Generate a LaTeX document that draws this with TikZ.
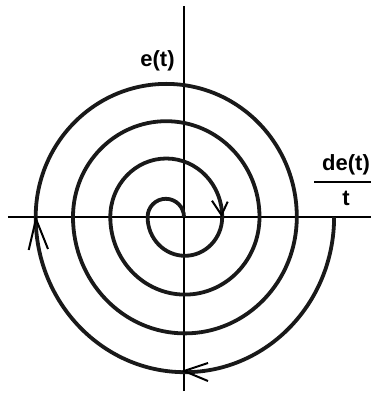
\documentclass[tikz,border=0pt]{standalone}
\usepackage{fontspec}
\setmainfont{Liberation Sans}
\usepackage{tikz}
\usetikzlibrary{positioning}

\begin{document}
\begin{tikzpicture}[x=1pt, y=1pt,
        axis/.style={draw=black, line width=2pt},
        spiral/.style={draw=black!90, line width=3.8pt},
        barb/.style={draw=black, line width=2pt},
        lbl/.style={font=\fontsize{22}{25}\selectfont\bfseries, inner sep=0pt}]
      \path[use as bounding box, fill=white] (-184,-176) rectangle (187,217);
      % axes
      \coordinate (ytop) at (0,211);
      \coordinate (ybot) at (0,-174);
      \coordinate (xleft) at (-176,0);
      \coordinate (xright) at (190,0);
      \draw[axis] (ybot) -- (ytop);
      \draw[axis] (xleft) -- (xright);
      % spiral, from the centre outwards
      \draw[spiral] (0,0) arc[start angle=0, end angle=180, radius=18.2]
        \foreach \k in {1,2,3} {
          arc[start angle=180, end angle=360, x radius=37.3*\k, y radius=38.8*\k]
          arc[start angle=0, end angle=180, x radius=37.3*\k+18.65, y radius=37.3*\k+21.2]
        }
        arc[start angle=180, end angle=360, x radius=149.2, y radius=155.2];
      % direction marks
      \coordinate (tipin) at (37.5,2);
      \coordinate (tipleft) at (-148,-2);
      \coordinate (tipbot) at (0,-154);
      \draw[barb] (tipin) ++(-9.5,14.3) -- (tipin) -- ++(6.2,13.3);
      \draw[barb] (tipleft) ++(-7.3,-31) -- (tipleft) -- ++(12,-30);
      \draw[barb] (tipbot) ++(24,8) -- (tipbot) -- ++(24,-10);
      % labels
      \node[lbl] (elabel) at (-26.5,156) {e(t)};
      \node[lbl, align=center] (dlabel) at (162,37)
        {de(t)\\[-12pt]\rule{64pt}{2pt}\\[-3pt]t};
\end{tikzpicture}
\end{document}
